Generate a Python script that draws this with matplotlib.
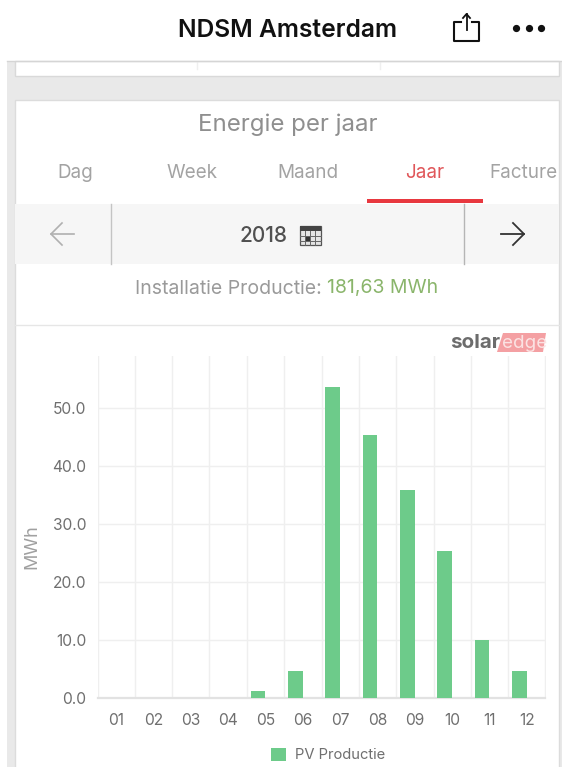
import matplotlib
matplotlib.use("Agg")
import matplotlib.pyplot as plt
from matplotlib.patches import Rectangle, Polygon

plt.rcParams['font.family'] = ['Inter', 'DejaVu Sans']

months = ["01", "02", "03", "04", "05", "06", "07", "08", "09", "10", "11", "12"]
production = [0, 0, 0, 0, 1.2, 4.7, 53.7, 45.4, 35.9, 25.3, 10.0, 4.7]
y_ticks = [0, 10, 20, 30, 40, 50]
y_labels = ["0.0", "10.0", "20.0", "30.0", "40.0", "50.0"]
tabs = ["Dag", "Week", "Maand", "Jaar", "Facture"]
tab_x = [75, 192, 308, 425, 523]

W, H = 562, 767
GREEN = "#6dcb8a"
GREY = "#a0a0a0"
TICK = "#6f6f6f"

fig = plt.figure(figsize=(W / 100, H / 100), dpi=100, facecolor="white")

# page chrome, in pixels
ui = fig.add_axes([0, 0, 1, 1], zorder=0)
ui.set_xlim(0, W)
ui.set_ylim(H, 0)
ui.axis("off")

ui.add_patch(Rectangle((7, 61), 555, 706, fc="#e9e9e9", ec="none"))
ui.add_patch(Rectangle((15, 61), 544, 15, fc="white", ec="#d9d9d9", lw=1))
ui.plot([197, 197], [62, 69], color="#efefef", lw=1)
ui.plot([380, 380], [62, 69], color="#efefef", lw=1)
ui.add_patch(Rectangle((15, 100), 544, 680, fc="white", ec="#dcdcdc", lw=1))
ui.plot([7, 562], [61, 61], color="#d5d5d5", lw=1)

ui.text(287.5, 30.5, "NDSM Amsterdam", fontsize=17.7, fontweight="semibold", color="#111111", ha="center", va="center")

# share icon
ui.plot([461, 454, 454, 479, 479, 472], [22, 22, 41, 41, 22, 22], color="#111111", lw=1.5)
ui.plot([466.5, 466.5], [14, 30], color="#111111", lw=1.3)
ui.plot([463, 466.5, 470], [18, 14, 18], color="#111111", lw=1.3)
ui.plot([516, 529, 541], [28, 28, 28], "o", color="#111111", ms=4.2)

ui.text(287.5, 124.5, "Energie per jaar", fontsize=17.3, color="#8f8f8f", ha="center", va="center")

for name, x in zip(tabs, tab_x):
    col = "#e0575a" if name == "Jaar" else "#a3a3a3"
    ui.text(x, 173.5, name, fontsize=13.6, color=col, ha="center", va="center")

ui.add_patch(Rectangle((15, 204), 544, 60, fc="#f6f6f6", ec="none"))
ui.add_patch(Rectangle((367, 199), 116, 4, fc="#e8383f", ec="none"))
ui.plot([111, 111], [204, 264], color="#c4c4c4", lw=1)
ui.plot([464, 464], [204, 264], color="#b5b5b5", lw=1)

ui.plot([74, 51], [234, 234], color="#b0b0b0", lw=1.2)
ui.plot([62, 51, 62], [223, 234, 245], color="#b0b0b0", lw=1.2)
ui.plot([501, 524], [234, 234], color="#333333", lw=1.3)
ui.plot([513, 524, 513], [223, 234, 245], color="#333333", lw=1.3)

ui.text(263.5, 235.5, "2018", fontsize=15, fontweight="medium", color="#505050", ha="center", va="center")
# calendar icon
ui.add_patch(Rectangle((300, 226), 21, 19, fc="#e4e4e4", ec="#555555", lw=0.9))
ui.add_patch(Rectangle((300, 226), 21, 5, fc="#444444", ec="none"))
for gx in [305, 310, 315]:
    ui.plot([gx, gx], [231, 245], color="#666666", lw=0.7)
for gy in [236, 241]:
    ui.plot([300, 321], [gy, gy], color="#666666", lw=0.7)
ui.add_patch(Rectangle((305, 236), 5, 5, fc="#333333", ec="none"))

ui.text(327, 288.5, "Installatie Productie: ", fontsize=14, color="#9a9a9a", ha="right", va="center")
ui.text(327, 288.5, "181,63 MWh", fontsize=14, color="#8ab56b", ha="left", va="center")
ui.plot([15, 559], [325, 325], color="#e6e6e6", lw=1)

# solaredge logo
ui.add_patch(Polygon([[503, 333], [546, 333], [543, 352], [497, 352]], fc="#f4a0a3", ec="none"))
ui.text(500, 343, "solar", fontsize=14.8, fontweight="bold", color="#6c6c6c", ha="right", va="center")
ui.text(502, 343, "edge", fontsize=13.5, color="#fbe3e3", ha="left", va="center")

# chart
left, right, top, bottom = 97.5, 545.5, 356, 698
ax = fig.add_axes([left / W, 1 - bottom / H, (right - left) / W, (bottom - top) / H], zorder=1)
ax.patch.set_alpha(0)
positions = list(range(len(months)))
ax.bar([p - 0.2 for p in positions], production, width=0.39, color=GREEN, label="PV Productie", zorder=3)

ax.set_xlim(-0.5, 11.5)
ax.set_ylim(0, 59)
ax.set_xticks(positions)
ax.set_xticklabels(months)
ax.set_xticks([p - 0.5 for p in positions] + [11.5], minor=True)
ax.set_yticks(y_ticks)
ax.set_yticklabels(y_labels)
ax.tick_params(axis="both", which="both", length=0, labelsize=11.2, labelcolor=TICK)
ax.tick_params(axis="x", pad=11)
ax.tick_params(axis="y", pad=8)
ax.grid(True, axis="x", which="minor", color="#efefef", lw=1, zorder=0)
ax.grid(True, axis="y", which="major", color="#efefef", lw=1, zorder=0)
ax.set_axisbelow(True)
for side in ["top", "right", "left"]:
    ax.spines[side].set_visible(False)
ax.spines["bottom"].set_color("#e2e2e2")
ax.spines["bottom"].set_linewidth(1.6)
ax.set_ylabel("MWh", fontsize=13, color=GREY)
ax.yaxis.set_label_coords((40 - left) / (right - left), (bottom - 547) / (bottom - top))

fig.legend(loc="center", bbox_to_anchor=(328 / W, 1 - 755 / H), frameon=False, fontsize=10.6,
           labelcolor=TICK, handlelength=1.05, handleheight=1.05, handletextpad=0.6)

fig.savefig("out.png", dpi=100)
